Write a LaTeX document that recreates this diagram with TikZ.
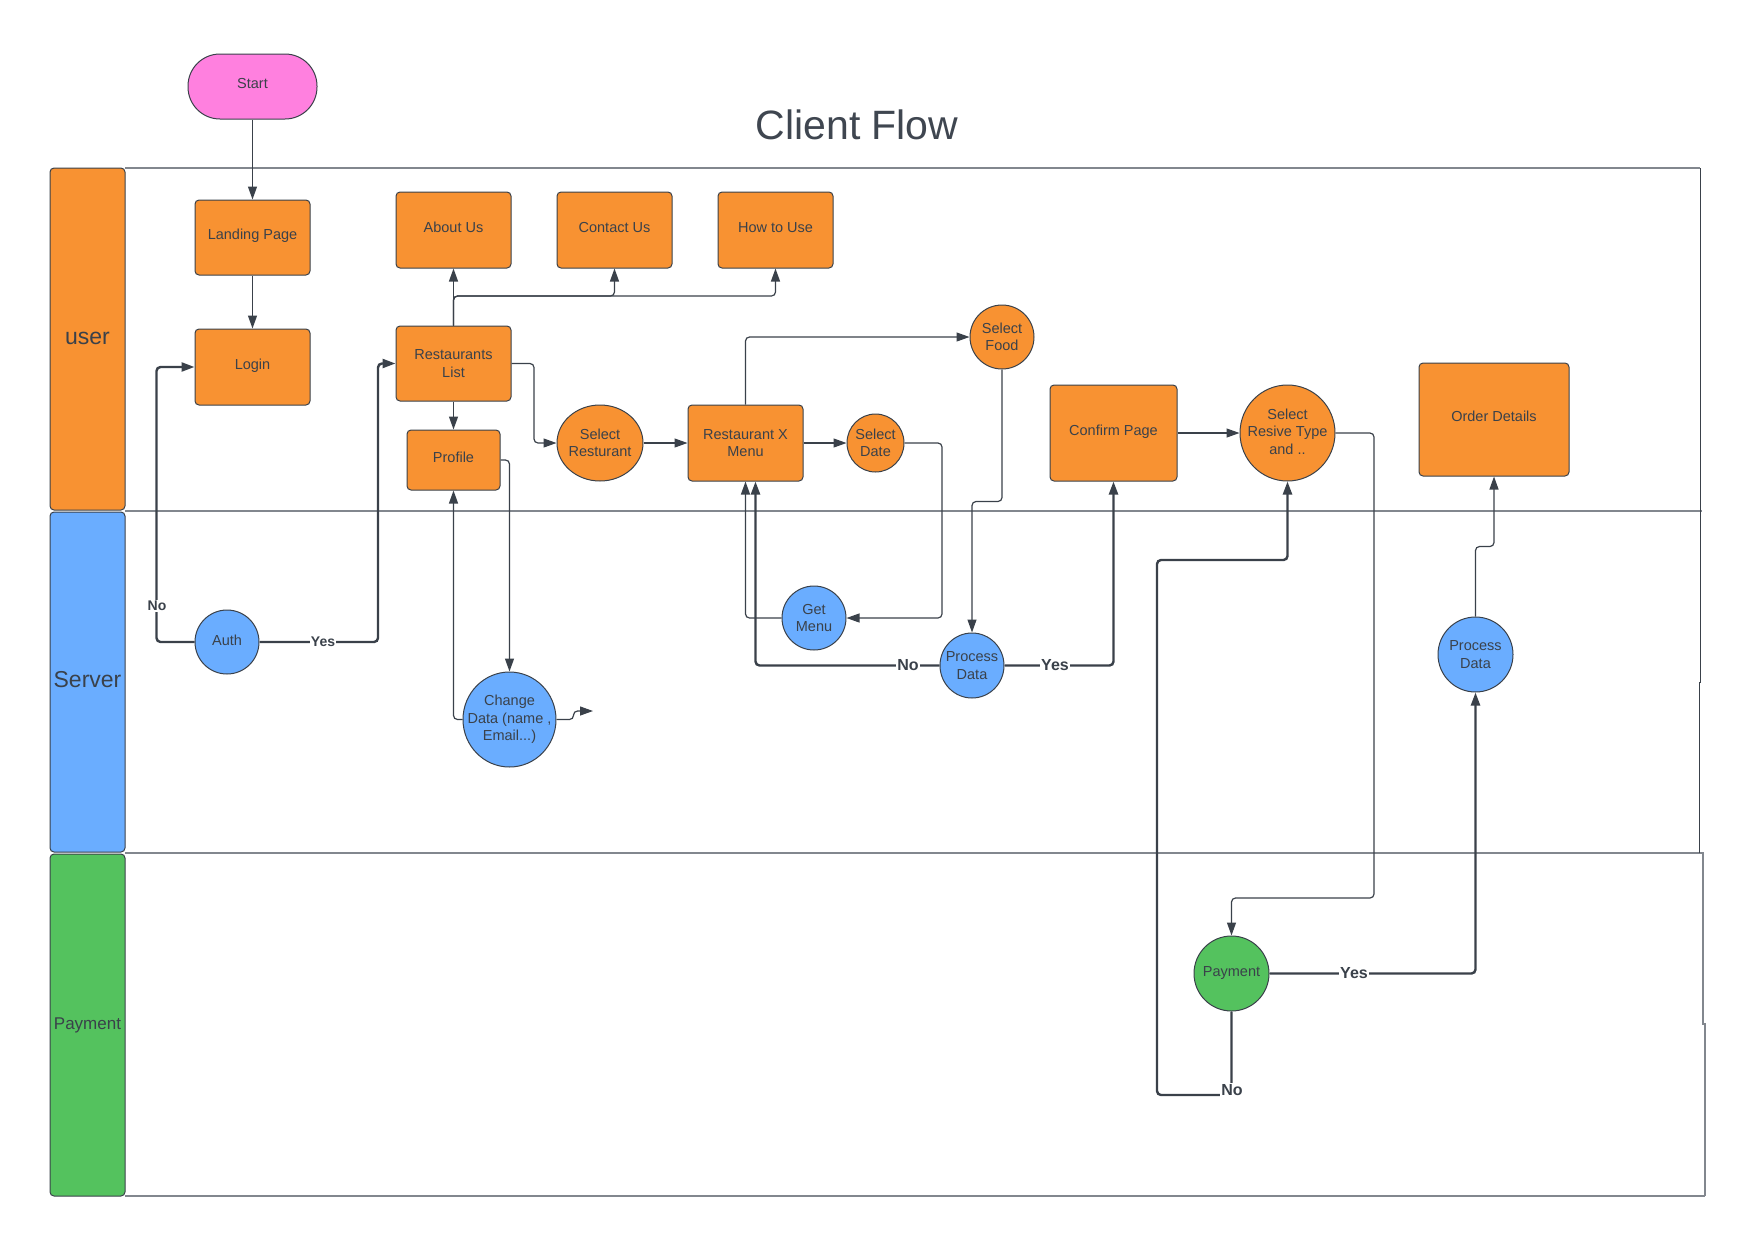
\documentclass[tikz,border=0pt]{standalone}
\usepackage{fontspec}
\setmainfont{Liberation Sans}
\usetikzlibrary{arrows.meta,shapes.geometric}
\definecolor{ink}{RGB}{58,65,74}
\definecolor{titlec}{RGB}{63,70,80}
\definecolor{orng}{RGB}{248,146,50}
\definecolor{blu}{RGB}{106,173,255}
\definecolor{grn}{RGB}{84,194,94}
\definecolor{pnk}{RGB}{255,128,223}
\definecolor{lanec}{RGB}{130,135,142}
\begin{document}
\begin{tikzpicture}[x=1pt,y=-1pt,
  every node/.style={text=ink, font=\fontsize{14.5}{17.5}\selectfont, align=center, inner sep=0pt},
  one/.style={text height=10.5pt, text depth=6pt},
  box/.style={draw=ink, line width=1pt, fill=orng, rounded corners=4pt, minimum width=115pt, minimum height=76pt},
  ell/.style={ellipse, draw=ink, line width=1pt, inner sep=-30pt},
  lanebar/.style={draw=ink, line width=1pt, rounded corners=4pt, minimum width=75pt},
  laneline/.style={draw=lanec, line width=1.5pt},
  tl/.style={draw=ink, line width=1.2pt, rounded corners=4pt, -{Triangle[length=13pt,width=9pt]}},
  tk/.style={draw=ink, line width=2.4pt, rounded corners=4pt, -{Triangle[length=13pt,width=9pt]}},
  lbl/.style={fill=white, font=\bfseries\fontsize{16}{19}\selectfont, text=ink, inner sep=1pt},
  lbls/.style={lbl, font=\bfseries\fontsize{14}{17}\selectfont}
]
\useasboundingbox (0,0) rectangle (1754,1240);

% title
\node[font=\fontsize{41}{49}\selectfont, text=titlec] (title) at (857,125) {Client Flow};

% lanes
\draw[laneline] (125,168) -- (1700,168);
\draw[laneline] (125,511) -- (1702,511);
\draw[laneline] (125,853) -- (1704,853);
\draw[laneline] (125,1196) -- (1705,1196);
\draw[draw=ink, line width=1pt] (1700,168) -- (1700,682) -- (1699,682) -- (1699,853);
\draw[draw=lanec, line width=1.2pt] (1703,853) -- (1703,1024) -- (1705,1024) -- (1705,1196);

\node[lanebar, fill=orng, minimum height=342pt, font=\fontsize{23}{27}\selectfont, text height=16.5pt, text depth=6pt] (laneuser) at (87.5,339) {user};
\node[lanebar, fill=blu, minimum height=340pt, font=\fontsize{23}{27}\selectfont, text height=16.5pt, text depth=5pt] (laneserver) at (87.5,682) {Server};
\node[lanebar, fill=grn, minimum height=342pt, font=\fontsize{17}{20}\selectfont] (lanepay) at (87.5,1025) {Payment};

% nodes
\node[one, draw=ink, line width=1pt, fill=pnk, rounded corners=32pt, minimum width=129pt, minimum height=65pt] (start) at (252.5,86.5) {Start};
\node[one, box, minimum height=75pt] (land) at (252.5,237.5) {Landing Page};
\node[one, box] (login) at (252.5,367) {Login};
\node[one, box] (about) at (453.5,230) {About Us};
\node[one, box] (contact) at (614.5,230) {Contact Us};
\node[one, box] (howto) at (775.5,230) {How to Use};
\node[box, minimum height=75pt] (rlist) at (453.5,363.5) {Restaurants\\List};
\node[one, box, minimum width=93pt, minimum height=60pt] (profile) at (453.5,460) {Profile};
\node[ell, fill=orng, minimum width=86pt, minimum height=76pt] (selres) at (600,443) {Select\\Resturant};
\node[box] (rxm) at (745.5,443) {Restaurant X\\Menu};
\node[ell, fill=orng, minimum width=57pt, minimum height=58pt] (seldate) at (875.5,443) {Select\\Date};
\node[ell, fill=orng, minimum width=64pt, minimum height=64pt] (selfood) at (1002,337) {Select\\Food};
\node[one, box, minimum width=127pt, minimum height=96pt] (confirm) at (1113.5,433) {Confirm Page};
\node[ell, fill=orng, minimum width=95pt, minimum height=96pt] (srt) at (1287.5,433) {Select\\Resive Type\\and ..\rule[-3pt]{0pt}{1pt}};
\node[one, box, minimum width=150pt, minimum height=113pt] (order) at (1494,419.5) {Order Details};

\node[ell, fill=blu, minimum width=64pt, minimum height=64pt, text height=10.5pt, text depth=3pt] (auth) at (227,642) {Auth};
\node[ell, fill=blu, minimum width=93pt, minimum height=95pt] (change) at (509.5,719.5) {Change\\Data (name ,\\Email...)};
\node[ell, fill=blu, minimum width=64pt, minimum height=64pt] (getmenu) at (814,618) {Get\\Menu};
\node[ell, fill=blu, minimum width=64pt, minimum height=65pt] (proc1) at (972,665.5) {Process\\Data};
\node[ell, fill=blu, minimum width=75pt, minimum height=75pt] (proc2) at (1475.5,654.5) {Process\\Data};
\node[ell, fill=grn, minimum width=75pt, minimum height=75pt] (pay) at (1231.5,973.5) {Payment};

\coordinate (dang) at (593,711);

% connectors
\draw[tl] (start) -- (land);
\draw[tl] (land) -- (login);
\draw[tk] (auth.west) -- ++(-38,0) |- (login.west);
\draw[tk] (auth.east) -- (378,642) |- (rlist.west);
\draw[tl] (rlist.north) -- (about.south);
\draw[tl] (rlist.north) -- (453.5,296) -| (contact.south);
\draw[tl] (rlist.north) -- (453.5,296) -| (howto.south);
\draw[tl] (rlist) -- (profile);
\draw[tl] (rlist.east) -- (534,363.5) |- (selres.west);
\draw[tl] (selres) -- (rxm);
\draw[tl] (rxm) -- (seldate);
\draw[tl] (rxm.north) |- (selfood.west);
\draw[tl] (seldate.east) -- (942,443) |- (getmenu.east);
\draw[tl] (getmenu.west) -| (rxm.south);
\draw[tk] (proc1.west) -| ([xshift=10pt]rxm.south);
\draw[tl] (selfood.south) -- ++(0,132) -| (proc1.north);
\draw[tk] (proc1.east) -| (confirm.south);
\draw[tl] (confirm) -- (srt);
\draw[tl] (srt.east) -| (1374,898) -| (pay.north);
\draw[tk] (pay.east) -| (proc2.south);
\draw[tk] (pay.south) |- (1157,1095) -- (1157,560) -| (srt.south);
\draw[tl] (proc2.north) -- ++(0,-70) -| (order.south);
\draw[tl] (profile.east) -| (change.north);
\draw[tl] (change.west) -| (profile.south);
\draw[tl] (change.east) -- ++(17,0) |- (dang);

% connector labels
\node[lbls] (lno1) at (157,606) {No};
\node[lbls] (lyes1) at (323,642) {Yes};
\node[lbl] (lno2) at (908,665) {No};
\node[lbl] (lyes2) at (1055,665) {Yes};
\node[lbl] (lyes3) at (1354,973) {Yes};
\node[lbl] (lno3) at (1232,1090) {No};
\end{tikzpicture}
\end{document}
